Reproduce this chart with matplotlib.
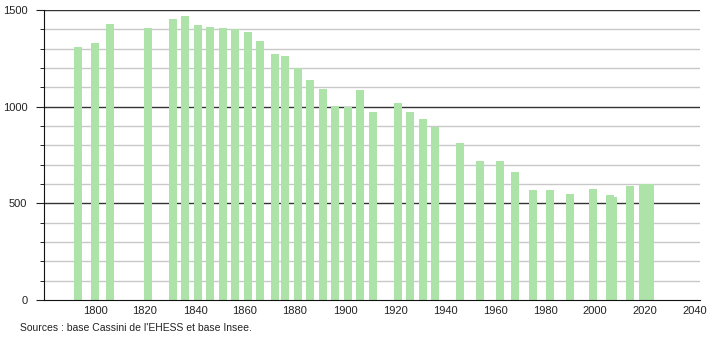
import numpy as np
import matplotlib
matplotlib.use("Agg")
from matplotlib import pyplot as plt

# census years and population
years = [1793, 1800, 1806, 1821, 1831, 1836, 1841, 1846, 1851, 1856,
         1861, 1866, 1872, 1876, 1881, 1886, 1891, 1896, 1901, 1906,
         1911, 1921, 1926, 1931, 1936, 1946, 1954, 1962, 1968, 1975,
         1982, 1990, 1999, 2006, 2007, 2014, 2019, 2022]
population = [1307, 1329, 1427, 1407, 1453, 1469, 1424, 1412, 1407, 1401,
              1384, 1340, 1272, 1264, 1198, 1138, 1093, 1003, 997, 1086,
              972, 1017, 972, 934, 896, 810, 719, 719, 662, 569,
              569, 548, 574, 543, 533, 590, 601, 602]
xticks = list(range(1800, 2041, 20))
source_text = "Sources : base Cassini de l'EHESS et base Insee."

plt.rcParams["font.family"] = ["Liberation Sans", "DejaVu Sans"]
fig = plt.figure(figsize=(7.1, 3.4), dpi=100)
ax = fig.add_axes([44 / 710, 40 / 340, 656 / 710, 290 / 340])

ax.set_xlim(1779.6, 2042)
ax.set_ylim(0, 1500)

# grid lines
for v in range(100, 1500, 100):
    if v % 500:
        ax.axhline(v, color="#c8c8c8", lw=1, zorder=0)
for v in (500, 1000, 1500):
    ax.axhline(v, color="#333333", lw=1, zorder=0)

ax.bar(years, population, width=3.2, color="#ade3a8", zorder=2)

for s in ("top", "right"):
    ax.spines[s].set_visible(False)
ax.spines["left"].set_color("#111111")
ax.spines["bottom"].set_color("#111111")

ax.set_xticks(xticks)
ax.set_xticklabels([str(x) for x in xticks])
ax.tick_params(axis="x", length=0, pad=4, labelsize=8, colors="#222222")
ax.set_yticks([0, 500, 1000, 1500])
ax.set_yticks(range(100, 1500, 100), minor=True)
ax.tick_params(axis="y", which="major", length=6, pad=6, labelsize=8,
               colors="#222222")
ax.tick_params(axis="y", which="minor", length=3)

fig.text(20 / 710, 1 - 328 / 340, source_text, fontsize=7.5, color="#222222",
         va="center", ha="left")

fig.savefig("out.png", dpi=100)
